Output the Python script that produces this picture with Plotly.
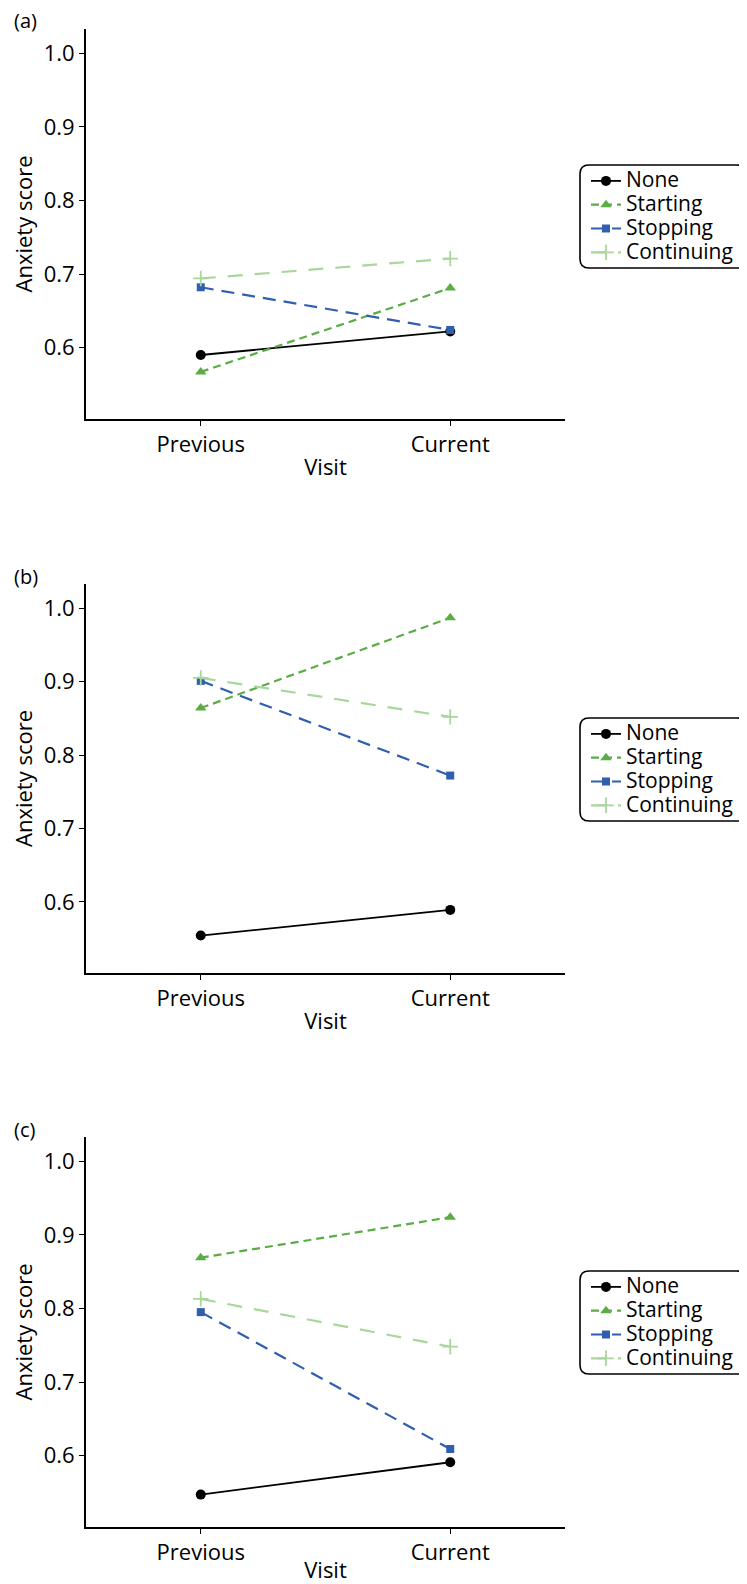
import plotly.graph_objects as go

# visits on the x axis and treatment groups
visits = ["Previous", "Current"]
groups = ["None", "Starting", "Stopping", "Continuing"]
panel_labels = ["(a)", "(b)", "(c)"]
y_ticks = [0.6, 0.7, 0.8, 0.9, 1.0]

# panel (a)
a_none = [0.590, 0.622]
a_starting = [0.567, 0.681]
a_stopping = [0.682, 0.624]
a_continuing = [0.694, 0.721]

# panel (b)
b_none = [0.554, 0.589]
b_starting = [0.864, 0.987]
b_stopping = [0.901, 0.772]
b_continuing = [0.905, 0.852]

# panel (c)
c_none = [0.547, 0.591]
c_starting = [0.869, 0.924]
c_stopping = [0.795, 0.609]
c_continuing = [0.813, 0.748]

panels = [
    [a_none, a_starting, a_stopping, a_continuing],
    [b_none, b_starting, b_stopping, b_continuing],
    [c_none, c_starting, c_stopping, c_continuing],
]

# page body has an 8px margin, so the figure is sized to fill the rest
OFF = 8
W, H = 747 - OFF, 1584 - OFF
FONT = "Open Sans"

styles = {
    "None": dict(color="#000000", dash="solid", symbol="circle", size=10, width=1.8),
    "Starting": dict(color="#5aad45", dash="8px,5px", symbol="triangle-up", size=10, width=2.2),
    "Stopping": dict(color="#2f5fae", dash="13px,8px", symbol="square", size=8, width=2.2),
    "Continuing": dict(color="#a9d69b", dash="15px,12px", symbol="cross-thin", size=11, width=2.2),
}

# page-pixel layout of each panel (top, bottom) and the shared x extent
panel_px = [(29, 419), (584, 973), (1137, 1527)]
x_px = (86, 565)
legend_top_px = [164, 717, 1270]


def px_x(x):
    return (x - OFF) / W


def px_y(y):
    return 1 - (y - OFF) / H


def rounded_box(x0, y0, x1, y1, r=9):
    """Rounded rectangle path in paper coordinates from page-pixel corners."""
    rx, ry = r / W, r / H
    X0, X1 = px_x(x0), px_x(x1)
    Y0, Y1 = px_y(y0), px_y(y1)  # Y0 is the top
    return (
        f"M {X0 + rx},{Y0} L {X1 - rx},{Y0} Q {X1},{Y0} {X1},{Y0 - ry} "
        f"L {X1},{Y1 + ry} Q {X1},{Y1} {X1 - rx},{Y1} "
        f"L {X0 + rx},{Y1} Q {X0},{Y1} {X0},{Y1 + ry} "
        f"L {X0},{Y0 - ry} Q {X0},{Y0} {X0 + rx},{Y0} Z"
    )


fig = go.Figure()
layout = dict(
    width=W,
    height=H,
    margin=dict(l=0, r=0, t=0, b=0),
    paper_bgcolor="white",
    plot_bgcolor="white",
    font=dict(family=FONT, size=22, color="black"),
    shapes=[],
    annotations=[],
)

for i, series in enumerate(panels):
    n = "" if i == 0 else str(i + 1)
    legend_name = "legend" if i == 0 else f"legend{i + 1}"
    top, bottom = panel_px[i]

    for name, vals in zip(groups, series):
        s = styles[name]
        fig.add_trace(go.Scatter(
            x=visits,
            y=vals,
            mode="lines+markers",
            # larger label text while the legend keeps tight rows
            name=f'<span style="font-size:21px">{name}</span>',
            xaxis=f"x{n}",
            yaxis=f"y{n}",
            legend=legend_name,
            line=dict(color=s["color"], width=s["width"], dash=s["dash"]),
            marker=dict(
                symbol=s["symbol"], size=s["size"], color=s["color"],
                line=dict(color=s["color"], width=1.8 if name == "Continuing" else 0),
            ),
        ))

    layout[f"xaxis{n}"] = dict(
        domain=[px_x(x_px[0]), px_x(x_px[1])],
        anchor=f"y{n}",
        type="category",
        categoryorder="array",
        categoryarray=visits,
        range=[-0.46, 1.46],
        showline=True, linecolor="black", linewidth=2,
        ticks="outside", ticklen=5, tickwidth=1, tickcolor="black",
        showgrid=False, zeroline=False,
        tickfont=dict(size=22),
        title=dict(text="Visit", font=dict(size=22), standoff=2),
    )
    layout[f"yaxis{n}"] = dict(
        domain=[px_y(bottom), px_y(top)],
        anchor=f"x{n}",
        range=[0.503, 1.033],
        tickvals=y_ticks,
        tickformat=".1f",
        showline=True, linecolor="black", linewidth=2,
        ticks="outside", ticklen=5, tickwidth=1, tickcolor="black",
        showgrid=False, zeroline=False,
        tickfont=dict(size=22),
        title=dict(text="Anxiety score", font=dict(size=22), standoff=8),
    )

    # legend, with a rounded frame drawn behind it
    lt = legend_top_px[i]
    layout[legend_name] = dict(
        x=px_x(586), y=px_y(lt),
        xanchor="left", yanchor="top",
        bgcolor="rgba(0,0,0,0)",
        borderwidth=0,
        font=dict(size=16, family=FONT),
        itemwidth=30,
        tracegroupgap=0,
    )
    layout["shapes"].append(dict(
        type="path", xref="paper", yref="paper",
        path=rounded_box(580, lt + 1, 746, lt + 104),
        line=dict(color="black", width=1.6),
        fillcolor="rgba(0,0,0,0)",
    ))

    # panel letter
    layout["annotations"].append(dict(
        text=panel_labels[i], xref="paper", yref="paper",
        x=px_x(12), y=px_y(top - 8),
        xanchor="left", yanchor="middle", showarrow=False,
        font=dict(size=20, family=FONT),
    ))

fig.update_layout(**layout)
fig.write_html("out.html")
